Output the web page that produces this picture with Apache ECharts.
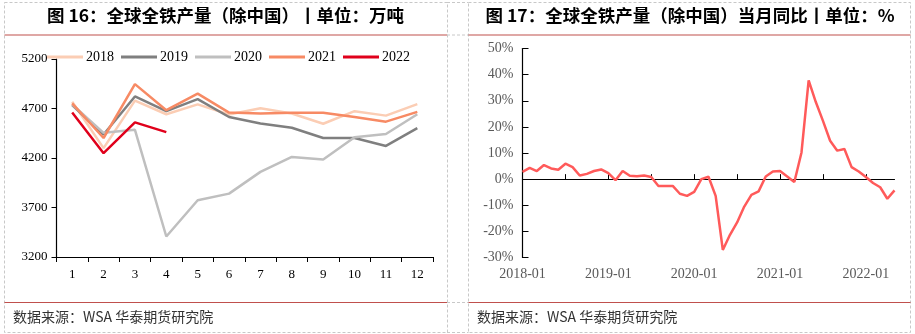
<!DOCTYPE html>
<html><head><meta charset="utf-8">
<script src="https://cdn.jsdelivr.net/npm/echarts@6/dist/echarts.min.js"></script>
<style>html,body{margin:0;padding:0;background:#fff}#c{width:915px;height:334px}</style>
</head><body><div id="c"></div>
<script>
// ---- data ----
var monthCats = ['1','2','3','4','5','6','7','8','9','10','11','12'];
var yTicksLeft = [3200, 3700, 4200, 4700, 5200];
var s2018 = [4768, 4300, 4780, 4642, 4742, 4640, 4703, 4649, 4546, 4673, 4628, 4744];
var s2019 = [4734, 4437, 4822, 4673, 4794, 4614, 4548, 4505, 4402, 4402, 4322, 4502];
var s2020 = [4740, 4454, 4485, 3407, 3773, 3840, 4060, 4211, 4184, 4409, 4443, 4642];
var s2021 = [4751, 4402, 4946, 4683, 4850, 4659, 4649, 4656, 4656, 4614, 4567, 4666];
var s2022 = [4659, 4249, 4560, 4461];
var seriesNames = ['2018', '2019', '2020', '2021', '2022'];

var dateCats = ['2018-01','2018-02','2018-03','2018-04','2018-05','2018-06','2018-07','2018-08','2018-09','2018-10','2018-11','2018-12',
 '2019-01','2019-02','2019-03','2019-04','2019-05','2019-06','2019-07','2019-08','2019-09','2019-10','2019-11','2019-12',
 '2020-01','2020-02','2020-03','2020-04','2020-05','2020-06','2020-07','2020-08','2020-09','2020-10','2020-11','2020-12',
 '2021-01','2021-02','2021-03','2021-04','2021-05','2021-06','2021-07','2021-08','2021-09','2021-10','2021-11','2021-12',
 '2022-01','2022-02','2022-03','2022-04','2022-05'];
var yoy = [2.8, 4.3, 3.1, 5.4, 4.1, 3.6, 5.9, 4.6, 1.4, 2.0, 3.1, 3.7,
 2.3, -0.4, 3.1, 1.3, 1.1, 1.4, 0.8, -2.6, -2.6, -2.6, -5.6, -6.4,
 -4.9, 0.0, 0.9, -6.4, -27.1, -21.3, -16.6, -10.5, -6.0, -4.7, 1.0, 2.9,
 3.1, 1.0, -1.1, 10.2, 37.8, 29.5, 22.3, 14.7, 10.9, 11.5, 4.6, 2.9,
 0.8, -1.5, -3.1, -7.5, -4.3];
var title1 = '图 16：全球全铁产量（除中国）丨单位：万吨';
var title2 = '图 17：全球全铁产量（除中国）当月同比丨单位：%';
var source = '数据来源：WSA 华泰期货研究院';

// ---- chart ----
var colors = ['#FBCDB4', '#7F7F7F', '#BFBFBF', '#F78A64', '#E0001B'];
var serif = '"Liberation Serif","Times New Roman",serif';
var cjk = '"Noto Sans CJK SC",sans-serif';
var chart = echarts.init(document.getElementById('c'), null, {renderer: 'canvas'});

var dash = {stroke: '#c8c8c8', lineWidth: 1, lineDash: [3, 2]};
var red = {stroke: '#C0504D', lineWidth: 1.2};
function ln(x1, y1, x2, y2, st) { return {type: 'line', shape: {x1: x1, y1: y1, x2: x2, y2: y2}, style: st, silent: true, z: -10}; }

var leftData = [s2018, s2019, s2020, s2021, s2022];
var series = leftData.map(function (d, i) {
  return {name: seriesNames[i], type: 'line', xAxisIndex: 0, yAxisIndex: 0, data: d,
    symbol: 'none', lineStyle: {width: 2.5, color: colors[i]}, itemStyle: {color: colors[i]}, z: i === 4 ? 10 : 2 + i};
});
series.push({name: 'yoy', type: 'line', xAxisIndex: 1, yAxisIndex: 1, data: yoy, symbol: 'none',
  lineStyle: {width: 2.5, color: '#FF5A5A'}, itemStyle: {color: '#FF5A5A'}});

var option = {
  animation: false,
  backgroundColor: '#fff',
  grid: [
    {left: 56.5, right: 482, top: 59, bottom: 77},
    {left: 522.5, right: 20.5, top: 48.5, bottom: 76.5}
  ],
  legend: {
    data: seriesNames, left: 42, top: 45, itemWidth: 36, itemHeight: 3, itemGap: 7, icon: 'rect',
    textStyle: {fontFamily: serif, fontSize: 14, color: '#000', padding: [0, 0, 0, -2]}
  },
  xAxis: [
    {type: 'category', gridIndex: 0, data: monthCats, boundaryGap: true,
      axisLine: {lineStyle: {color: '#000', width: 1.2}},
      axisTick: {show: true, length: 5, lineStyle: {color: '#000'}},
      axisLabel: {fontFamily: serif, fontSize: 13, color: '#000', margin: 11}},
    {type: 'category', gridIndex: 1, data: dateCats, boundaryGap: false,
      axisLine: {lineStyle: {color: '#000', width: 1.2}},
      axisTick: {show: true, inside: true, length: 5, lineStyle: {color: '#000'}, interval: function (i) { return i % 6 === 0; }},
      axisLabel: {fontFamily: serif, fontSize: 14, color: '#595959', margin: 10, interval: function (i) { return i % 12 === 0; }}}
  ],
  yAxis: [
    {type: 'value', gridIndex: 0, min: yTicksLeft[0], max: yTicksLeft[yTicksLeft.length - 1], interval: 500,
      splitLine: {show: false},
      axisLine: {show: true, lineStyle: {color: '#000', width: 1.2}},
      axisTick: {show: true, length: 5, lineStyle: {color: '#000'}},
      axisLabel: {fontFamily: serif, fontSize: 13, color: '#000', margin: 9, formatter: function (v) { return String(v); }}},
    {type: 'value', gridIndex: 1, min: -30, max: 50, interval: 10,
      splitLine: {show: false},
      axisLine: {show: true, lineStyle: {color: '#000', width: 1.2}},
      axisTick: {show: true, inside: true, length: 6, lineStyle: {color: '#000'}},
      axisLabel: {fontFamily: serif, fontSize: 14, color: '#595959', margin: 9, formatter: '{value}%'}}
  ],
  series: series,
  graphic: [
    {type: 'rect', shape: {x: 4.5, y: 2.5, width: 443, height: 330}, style: {fill: null, stroke: '#c8c8c8', lineWidth: 1, lineDash: [3, 2]}, silent: true, z: -10},
    {type: 'rect', shape: {x: 468.5, y: 2.5, width: 442, height: 330}, style: {fill: null, stroke: '#c8c8c8', lineWidth: 1, lineDash: [3, 2]}, silent: true, z: -10},
    ln(447, 2.5, 468.5, 2.5, dash), ln(447, 35, 468.5, 35, dash), ln(447, 302.5, 468.5, 302.5, dash), ln(447, 332.5, 468.5, 332.5, dash),
    ln(4.5, 35, 447, 35, red), ln(468.5, 35, 910.5, 35, red),
    ln(4.5, 302.5, 447, 302.5, red), ln(468.5, 302.5, 910.5, 302.5, red),
    {type: 'text', x: 225.5, y: 15, style: {text: title1, fontFamily: cjk, fontWeight: 'bold', fontSize: 17.5, fill: '#000', textAlign: 'center', textVerticalAlign: 'middle'}, z: 5},
    {type: 'text', x: 690, y: 15, style: {text: title2, fontFamily: cjk, fontWeight: 'bold', fontSize: 17.5, fill: '#000', textAlign: 'center', textVerticalAlign: 'middle'}, z: 5},
    {type: 'text', x: 13, y: 317, style: {text: source, fontFamily: cjk, fontSize: 14, fill: '#333', textAlign: 'left', textVerticalAlign: 'middle'}, z: 5},
    {type: 'text', x: 477, y: 317, style: {text: source, fontFamily: cjk, fontSize: 14, fill: '#333', textAlign: 'left', textVerticalAlign: 'middle'}, z: 5}
  ]
};
chart.setOption(option);
</script></body></html>
